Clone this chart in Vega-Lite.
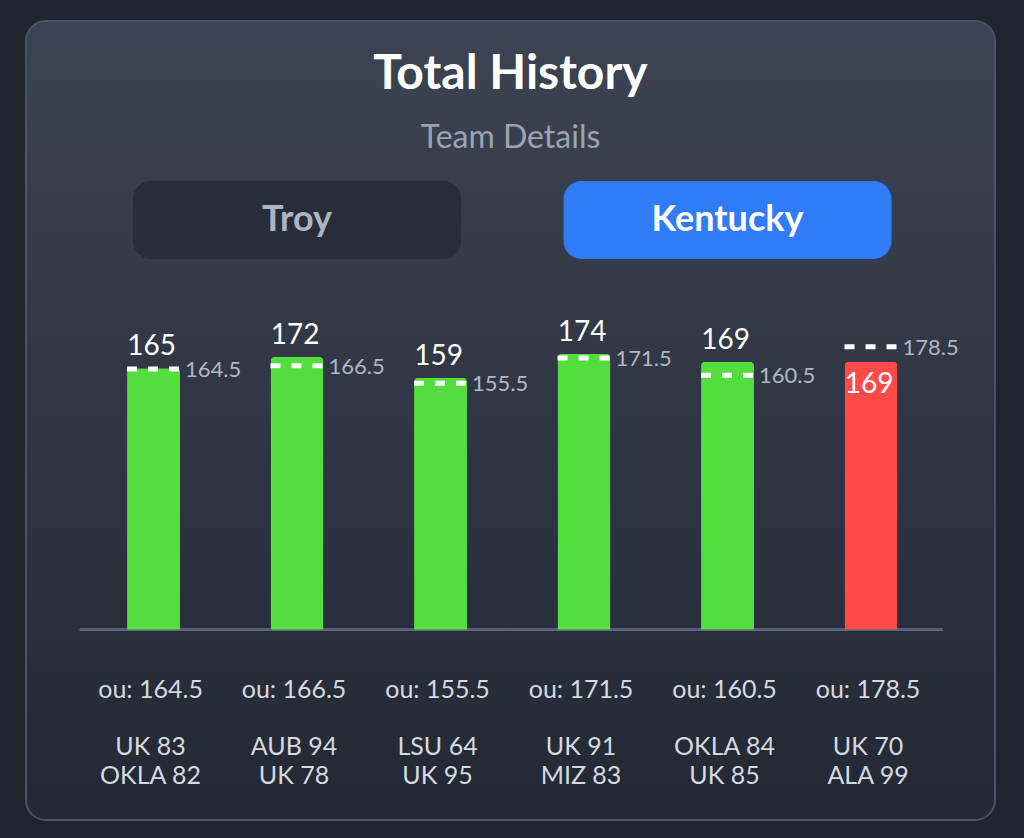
{
  "$schema": "https://vega.github.io/schema/vega-lite/v6.json",
  "autosize": "none",
  "width": 969,
  "height": 799,
  "padding": {"left": 26, "top": 21, "right": 29, "bottom": 18},
  "background": "#20242e",
  "title": {
    "text": "Total History",
    "subtitle": "Team Details",
    "anchor": "middle",
    "frame": "group",
    "offset": -133,
    "font": "Lato",
    "fontSize": 48,
    "fontWeight": "bold",
    "color": "#ffffff",
    "subtitleFont": "Lato",
    "subtitleFontSize": 32,
    "subtitleColor": "#9ca4b3",
    "subtitlePadding": 24
  },
  "datasets": {
    "games": [
      {"game": "G1", "total": 165, "ou": 164.5, "result": "over", "matchup": "UK 83\nOKLA 82"},
      {"game": "G2", "total": 172, "ou": 166.5, "result": "over", "matchup": "AUB 94\nUK 78"},
      {"game": "G3", "total": 159, "ou": 155.5, "result": "over", "matchup": "LSU 64\nUK 95"},
      {"game": "G4", "total": 174, "ou": 171.5, "result": "over", "matchup": "UK 91\nMIZ 83"},
      {"game": "G5", "total": 169, "ou": 160.5, "result": "over", "matchup": "OKLA 84\nUK 85"},
      {"game": "G6", "total": 169, "ou": 178.5, "result": "under", "matchup": "UK 70\nALA 99"}
    ],
    "teams": [
      {"button": "Troy", "slot": "G2", "active": false},
      {"button": "Kentucky", "slot": "G5", "active": true}
    ]
  },
  "config": {
    "font": "Lato",
    "view": {
      "fill": {
        "gradient": "linear", "x1": 0, "y1": 0, "x2": 0, "y2": 1,
        "stops": [{"offset": 0, "color": "#3c4352"}, {"offset": 1, "color": "#232834"}]
      },
      "stroke": "#4c5366",
      "strokeWidth": 2,
      "cornerRadius": 20
    }
  },
  "layer": [
    {
      "data": {"name": "teams"},
      "mark": {"type": "bar", "width": 328, "cornerRadius": 18},
      "encoding": {
        "x": {"field": "slot", "type": "nominal", "axis": null,
              "scale": {"domain": ["G1", "G2", "G3", "G4", "G5", "G6"], "paddingInner": 0.6307, "paddingOuter": 0.6917, "align": 0.509}},
        "y": {"datum": 283.1, "type": "quantitative", "axis": null,
              "scale": {"domain": [-120, 384], "nice": false, "zero": false}},
        "y2": {"datum": 233.9},
        "fill": {"condition": {"test": "datum.active", "value": "#2f7cf6"}, "value": "#282d39"}
      }
    },
    {
      "data": {"name": "teams"},
      "mark": {"type": "text", "fontSize": 36, "fontWeight": "bold", "baseline": "middle", "align": "center"},
      "encoding": {
        "x": {"field": "slot", "type": "nominal"},
        "y": {"datum": 258.5, "type": "quantitative"},
        "text": {"field": "button"},
        "color": {"condition": {"test": "datum.active", "value": "#ffffff"}, "value": "#aeb5c2"}
      }
    },
    {
      "data": {"name": "games"},
      "mark": {"type": "rule", "color": "#5a6480", "strokeWidth": 2},
      "encoding": {
        "x": {"datum": "G1", "type": "nominal", "bandPosition": -0.89},
        "x2": {"datum": "G6", "bandPosition": 1.85},
        "y": {"datum": 0, "type": "quantitative"}
      }
    },
    {
      "data": {"name": "games"},
      "mark": {"type": "bar", "cornerRadiusTopLeft": 4, "cornerRadiusTopRight": 4},
      "encoding": {
        "x": {"field": "game", "type": "nominal"},
        "y": {"field": "total", "type": "quantitative"},
        "color": {"field": "result", "type": "nominal", "legend": null,
                  "scale": {"domain": ["over", "under"], "range": ["#53dd3f", "#ff4a48"]}}
      }
    },
    {
      "data": {"name": "games"},
      "mark": {"type": "rule", "color": "#ffffff", "strokeWidth": 5, "strokeDash": [10, 11]},
      "encoding": {
        "x": {"field": "game", "type": "nominal", "bandPosition": 0},
        "x2": {"field": "game", "bandPosition": 1},
        "y": {"field": "ou", "type": "quantitative"}
      }
    },
    {
      "data": {"name": "games"},
      "mark": {"type": "text", "fontSize": 22, "align": "left", "baseline": "alphabetic", "dx": 5, "dy": 8, "color": "#b0b7c3"},
      "encoding": {
        "x": {"field": "game", "type": "nominal", "bandPosition": 1},
        "y": {"field": "ou", "type": "quantitative"},
        "text": {"field": "ou", "type": "quantitative", "format": ".1f"}
      }
    },
    {
      "data": {"name": "games"},
      "transform": [{"filter": "datum.result == 'over'"}],
      "mark": {"type": "text", "fontSize": 28, "align": "center", "baseline": "alphabetic", "dx": -2, "dy": -13, "color": "#ffffff"},
      "encoding": {
        "x": {"field": "game", "type": "nominal"},
        "y": {"field": "total", "type": "quantitative"},
        "text": {"field": "total", "type": "quantitative"}
      }
    },
    {
      "data": {"name": "games"},
      "transform": [{"filter": "datum.result == 'under'"}],
      "mark": {"type": "text", "fontSize": 28, "align": "center", "baseline": "alphabetic", "dx": -2, "dy": 31, "color": "#ffffff"},
      "encoding": {
        "x": {"field": "game", "type": "nominal"},
        "y": {"field": "total", "type": "quantitative"},
        "text": {"field": "total", "type": "quantitative"}
      }
    },
    {
      "data": {"name": "games"},
      "transform": [{"calculate": "'ou: ' + format(datum.ou, '.1f')", "as": "ouLabel"}],
      "mark": {"type": "text", "fontSize": 25, "align": "center", "baseline": "alphabetic", "dx": -3, "color": "#d5d9e0"},
      "encoding": {
        "x": {"field": "game", "type": "nominal"},
        "y": {"datum": -43, "type": "quantitative"},
        "text": {"field": "ouLabel"}
      }
    },
    {
      "data": {"name": "games"},
      "mark": {"type": "text", "fontSize": 25, "align": "center", "baseline": "alphabetic", "dx": -3, "lineBreak": "\n", "lineHeight": 29, "color": "#d5d9e0"},
      "encoding": {
        "x": {"field": "game", "type": "nominal"},
        "y": {"datum": -79, "type": "quantitative"},
        "text": {"field": "matchup"}
      }
    }
  ]
}
